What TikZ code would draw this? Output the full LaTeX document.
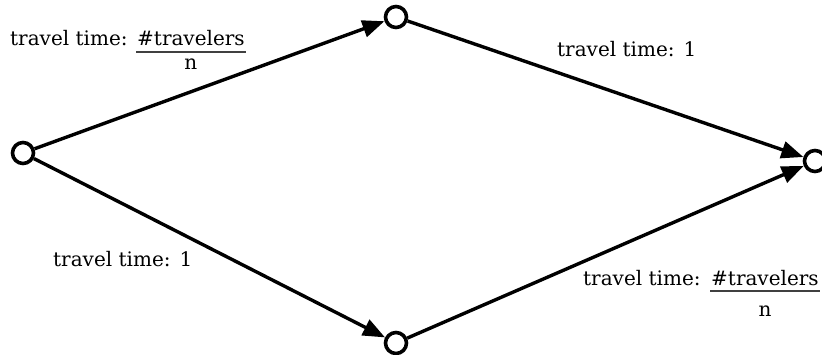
\documentclass[tikz,border=0pt]{standalone}
\usepackage{fontspec}
\setmainfont{DejaVu Serif}
\usetikzlibrary{arrows.meta,calc}
\begin{document}
\begin{tikzpicture}[x=1pt,y=-1pt,
  station/.style={circle,draw,line width=3.6pt,minimum size=21pt,inner sep=0pt},
  route/.style={line width=3.4pt,-{Triangle[length=22pt,width=17pt]}},
  lbl/.style={font=\fontsize{20}{24}\selectfont,inner sep=0pt,anchor=base west},
  fracbar/.style={line width=1.5pt,draw=black!75}]
\useasboundingbox (0,0) rectangle (822,355);

% network nodes
\node[station] (s) at (23,153) {};
\node[station] (u) at (396,17) {};
\node[station] (t) at (815,161) {};
\node[station] (d) at (396,343) {};

% routes
\draw[route] (s) -- (u);
\draw[route] (u) -- (t);
\draw[route] (s) -- (d);
\draw[route] (d) -- (t);

% upper-left cost: #travelers / n
\node[lbl] (ul) at (10,46) {travel time:};
\node[lbl] (ulnum) at (137,46) {\#travelers};
\draw[fracbar] ($(ulnum.base west)+(-1,6)$) -- ($(ulnum.base east)+(1,6)$);
\node[lbl,anchor=base] (ulden) at ($(ulnum.base)+(0,24)$) {n};

% upper-right cost: 1
\node[lbl] (ur) at (557,57) {travel time:\hspace{0.45em}1};

% lower-left cost: 1
\node[lbl] (ll) at (53,267) {travel time:\hspace{0.45em}1};

% lower-right cost: #travelers / n
\node[lbl] (lr) at (583,286) {travel time:};
\node[lbl] (lrnum) at (711,286) {\#travelers};
\draw[fracbar] ($(lrnum.base west)+(-1,5)$) -- ($(lrnum.base east)+(1,5)$);
\node[lbl,anchor=base] (lrden) at ($(lrnum.base)+(0,31)$) {n};
\end{tikzpicture}
\end{document}
